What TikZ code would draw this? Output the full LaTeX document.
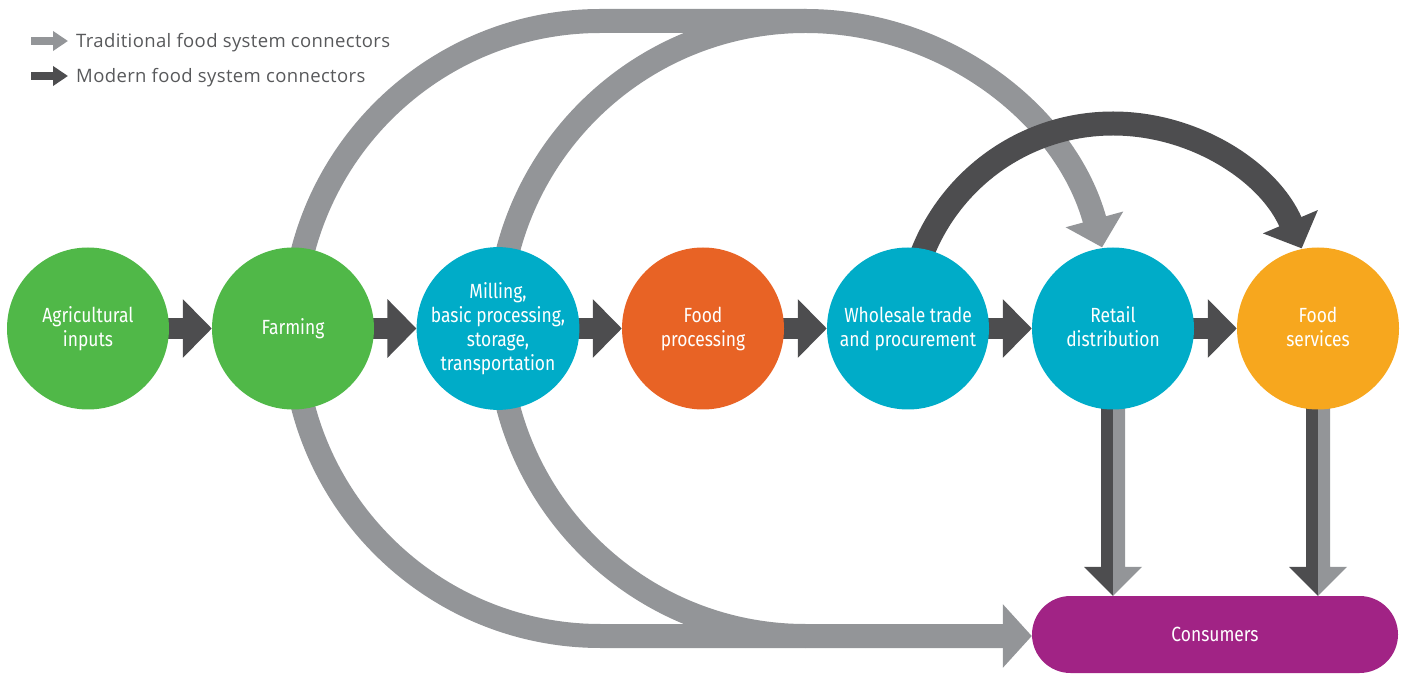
\documentclass[tikz,border=0pt]{standalone}
\usepackage{fontspec}
\setmainfont{Fira Sans}[FakeStretch=0.85]
\newfontfamily\legendfont{Open Sans}[LetterSpace=2]
\usetikzlibrary{arrows.meta,calc}
\pgfdeclarelayer{background}
\pgfsetlayers{background,main}
\definecolor{cgreen}{HTML}{50B848}
\definecolor{cteal}{HTML}{00ACC8}
\definecolor{corange}{HTML}{E86325}
\definecolor{cyellow}{HTML}{F7A71E}
\definecolor{cpurple}{HTML}{A12385}
\definecolor{cgray}{HTML}{939598}
\definecolor{cdark}{HTML}{4D4D4F}
\definecolor{ctext}{HTML}{58595B}
\begin{document}
\begin{tikzpicture}[x=1pt,y=1pt,
  stage/.style={circle, minimum size=162pt, inner sep=0pt, text=white,
    font=\fontsize{20.5}{24}\selectfont, align=center},
  trad/.style={draw=cgray, line width=24pt},
  tradtip/.style={-{Triangle[length=29pt,width=58pt]}},
  modern/.style={draw=cdark, line width=24pt, -{Triangle[length=29pt,width=58pt]}},
  modernh/.style={draw=cdark, line width=21pt, -{Triangle[length=29pt,width=57pt]}},
  legendtext/.style={anchor=west, inner sep=0pt, text=ctext, font=\legendfont\fontsize{18.5}{20}\selectfont}
]
\useasboundingbox (0,0) rectangle (1405,675);

% stages
\node[stage, fill=cgreen]  (agri)  at (88,346.5)   {Agricultural\\inputs};
\node[stage, fill=cgreen]  (farm)  at (293,346.5)  {Farming};
\node[stage, fill=cteal]   (mill)  at (498,346.5)  {Milling,\\basic processing,\\storage,\\transportation};
\node[stage, fill=corange] (proc)  at (703,346.5)  {Food\\processing};
\node[stage, fill=cteal]   (whole) at (908,346.5)  {Wholesale trade\\and procurement};
\node[stage, fill=cteal]   (ret)   at (1113,346.5) {Retail\\distribution\vphantom{g}};
\node[stage, fill=cyellow] (serv)  at (1318,346.5) {Food\\services\vphantom{g}};
\node[fill=cpurple, rectangle, rounded corners=38.5pt, minimum width=366pt,
      minimum height=77pt, inner sep=0pt, text=white,
      font=\fontsize{20.5}{24}\selectfont] (cons) at (1215,40.5) {Consumers};

% legend
\coordinate (lg1s) at (31,634);
\coordinate (lg1e) at (68,634);
\coordinate (lg2s) at (31,599);
\coordinate (lg2e) at (68,599);
\draw[draw=cgray, line width=8pt, -{Triangle[length=15pt,width=19pt]}] (lg1s) -- (lg1e);
\draw[draw=cdark, line width=8pt, -{Triangle[length=15pt,width=19pt]}] (lg2s) -- (lg2e);
\node[legendtext] (lt) at (76,632) {Traditional food system connectors};
\node[legendtext] (lm) at (76,597.5) {Modern food system connectors};

\begin{pgfonlayer}{background}
  % traditional connectors
  \draw[trad, tradtip] (farm.center) arc[start angle=180, end angle=90, radius=307.5]
     coordinate (t1) -- ++(205,0) coordinate (t2)
     arc[start angle=90, end angle=15.3, radius=307.5];
  \draw[trad] (mill.center) arc[start angle=180, end angle=90, radius=307.5];
  \draw[trad] (mill.center) arc[start angle=180, end angle=270, radius=307.5];
  \draw[trad, -{Triangle[length=29pt,width=62pt]}] (farm.center)
     arc[start angle=180, end angle=270, radius=307.5] coordinate (b1)
     -- (b1 -| cons.west);
  % modern connectors
  \draw[modern] (whole.center) arc[start angle=180, end angle=23, radius=205];
  \foreach \a/\b in {agri/farm, farm/mill, mill/proc, proc/whole, whole/ret, ret/serv}
    \draw[modernh] (\a.center) -- (\b.west);
  % split arrows down to consumers
  \foreach \s in {ret, serv}{
    \fill[cdark] ($(\s.center)+(-12,0)$) -- (\s.center) -- (\s.center |- cons.north)
       -- ++(-29,29) -- ++(17,0) -- cycle;
    \fill[cgray] ($(\s.center)+(12,0)$) -- (\s.center) -- (\s.center |- cons.north)
       -- ++(29,29) -- ++(-17,0) -- cycle;
  }
\end{pgfonlayer}
\end{tikzpicture}
\end{document}
